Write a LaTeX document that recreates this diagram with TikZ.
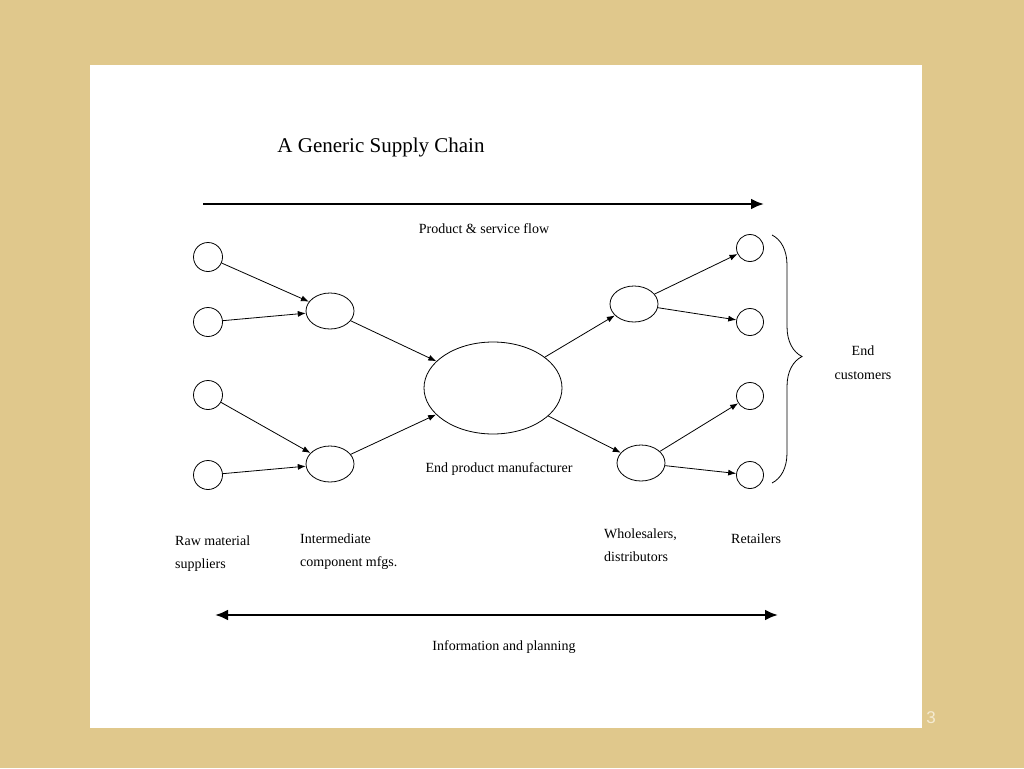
\documentclass[tikz,border=0pt]{standalone}
\usepackage{fontspec}
\setmainfont{Liberation Serif}
\setsansfont{Liberation Sans}
\usetikzlibrary{arrows.meta,decorations.pathreplacing,shapes.geometric}
\begin{document}
\begin{tikzpicture}[x=1pt,y=-1pt,
 circ/.style={draw,circle,minimum size=29pt,inner sep=0pt,line width=0.8pt},
 ell/.style={draw,ellipse,minimum width=48pt,minimum height=36pt,inner sep=0pt,line width=0.8pt},
 conn/.style={-{Latex[length=8pt,width=6pt]},line width=0.8pt},
 sm/.style={font=\fontsize{14}{16}\selectfont},
 lbl/.style={font=\fontsize{14}{23}\selectfont,align=left,anchor=north west,inner sep=0pt}]
\fill[fill={rgb,255:red,224;green,200;blue,140}] (0,0) rectangle (1024,768);
\fill[white] (90,65) rectangle (922,728);
\node[text={rgb,255:red,245;green,235;blue,210},font=\sffamily\fontsize{17}{18}\selectfont] (pg) at (931,718) {3};
\node[font=\fontsize{21}{24}\selectfont] (title) at (381,147) {A Generic Supply Chain};
\coordinate (t1) at (203,204); \coordinate (t2) at (764,204);
\draw[line width=2.5pt,-{Latex[length=13pt,width=11pt]}] (t1) -- (t2);
\node[sm] (pf) at (484,229) {Product \& service flow};
\coordinate (b1) at (215,615); \coordinate (b2) at (778,615);
\draw[line width=2.5pt,{Latex[length=13pt,width=11pt]}-{Latex[length=13pt,width=11pt]}] (b1) -- (b2);
\node[sm] (ip) at (504,647) {Information and planning};
\node[circ] (r1) at (208,257) {};
\node[circ] (r2) at (208,322) {};
\node[circ] (r3) at (208,395) {};
\node[circ] (r4) at (208,475) {};
\node[ell] (i1) at (330,311) {};
\node[ell] (i2) at (330,464) {};
\node[draw,ellipse,minimum width=138pt,minimum height=92pt,line width=0.8pt] (m) at (493,388) {};
\node[ell] (w1) at (634,304) {};
\node[ell] (w2) at (641,463) {};
\node[circ,minimum size=27pt] (e1) at (750,248) {};
\node[circ,minimum size=27pt] (e2) at (750,322) {};
\node[circ,minimum size=27pt] (e3) at (750,396) {};
\node[circ,minimum size=27pt] (e4) at (750,475) {};
\draw[conn] (r1) -- (i1); \draw[conn] (r2) -- (i1);
\draw[conn] (r3) -- (i2); \draw[conn] (r4) -- (i2);
\draw[conn] (i1) -- (m); \draw[conn] (i2) -- (m);
\draw[conn] (m) -- (w1); \draw[conn] (m) -- (w2);
\draw[conn] (w1) -- (e1); \draw[conn] (w1) -- (e2);
\draw[conn] (w2) -- (e3); \draw[conn] (w2) -- (e4);
\coordinate (bt) at (772,235); \coordinate (bb) at (772,483);
\draw[line width=0.8pt,decorate,decoration={brace,amplitude=30pt,aspect=0.49}] (bt) -- (bb);
\node[font=\fontsize{14}{24}\selectfont,align=center] (ec) at (863,363) {End\\customers};
\node[sm] (epm) at (499,469) {End product manufacturer};
\node[lbl] (l1) at (175,536) {Raw material\\suppliers};
\node[lbl] (l2) at (300,534) {Intermediate\\component mfgs.};
\node[lbl] (l3) at (604,529) {Wholesalers,\\distributors};
\node[lbl] (l4) at (731,534) {Retailers};
\end{tikzpicture}
\end{document}
